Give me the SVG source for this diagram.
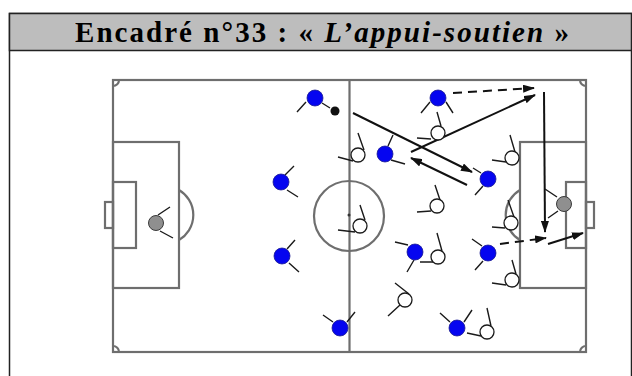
<svg xmlns="http://www.w3.org/2000/svg" width="632" height="376" viewBox="0 0 632 376">
<defs>
<style>
.field{fill:none;stroke:#6e6e6e;stroke-width:2.2}
.blue{fill:#0505f0;stroke:#1a1a90;stroke-width:0.8}
.white{fill:#fff;stroke:#1a1a1a;stroke-width:1.3}
.gk{fill:#8f8f8f;stroke:#3a3a3a;stroke-width:1}
.leg{stroke:#1a1a1a;stroke-width:1.4;fill:none}
.arr{stroke:#111;stroke-width:2;fill:none;marker-end:url(#ah)}
.dash{stroke-dasharray:9 6}
.title{font-family:"Liberation Serif","Times New Roman",serif;font-weight:bold;font-size:29px;fill:#000}
</style>
<marker id="ah" viewBox="0 0 12 8" refX="11" refY="4" markerWidth="12" markerHeight="8" markerUnits="userSpaceOnUse" orient="auto">
<path d="M0,0 L12,4 L0,8 z" fill="#111"/>
</marker>
</defs>
<rect width="632" height="376" fill="#fff"/>
<g id="frame">
<rect x="9.5" y="13.5" width="622" height="380" fill="#fff" stroke="#222" stroke-width="1.5"/>
<rect x="9.5" y="13.5" width="622" height="37" fill="#bdbdbd" stroke="#222" stroke-width="1.5"/>
<text class="title" x="75" y="42" textLength="494" lengthAdjust="spacing">Encadré n°33 : « <tspan font-style="italic">L’appui-soutien</tspan> »</text>
</g>
<g id="pitch" class="field">
<rect x="113" y="80" width="473" height="272"/>
<line x1="349.5" y1="80" x2="349.5" y2="352"/>
<circle cx="349" cy="216" r="35"/>
<circle cx="349" cy="215" r="1.5" fill="#333" stroke="none"/>
<rect x="113" y="142" width="66" height="146"/>
<rect x="113" y="182" width="23" height="66"/>
<rect x="105" y="202" width="8" height="26"/>
<path d="M179,190 A29,29 0 0 1 179,240"/>
<rect x="520" y="142" width="66" height="146"/>
<rect x="566" y="182" width="20" height="66"/>
<rect x="586" y="202" width="8" height="26"/>
<path d="M520,190 A29,29 0 0 0 520,240"/>
<path d="M113,86 A6,6 0 0 0 119,80"/>
<path d="M580,80 A6,6 0 0 0 586,86"/>
<path d="M586,346 A6,6 0 0 0 580,352"/>
<path d="M119,352 A6,6 0 0 0 113,346"/>
</g>
<g id="connectors">
<line class="arr" x1="353" y1="113" x2="472" y2="172"/>
<line class="arr" x1="467" y1="185" x2="411" y2="158"/>
<line class="arr" x1="411" y1="152" x2="535" y2="95"/>
<line class="arr dash" x1="453" y1="93" x2="534" y2="88"/>
<line class="arr" x1="544" y1="92" x2="545" y2="232"/>
<line class="arr dash" x1="500" y1="244" x2="546" y2="238"/>
<line class="arr" x1="548" y1="244" x2="583" y2="233"/>
</g>
<g id="ball"><circle cx="335" cy="111" r="4.5" fill="#111"/></g>
<g id="gk-left"><path class="leg" d="M158,215 L170,207 M160,231 L173,238"/><circle class="gk" cx="156" cy="223" r="7.5"/></g>
<g id="gk-right"><path class="leg" d="M557,197 L545,189 M558,211 L548,218"/><circle class="gk" cx="564" cy="204" r="7.5"/></g>
<g id="b1"><path class="leg" d="M306,102 L297,112 M322,103 L330,108"/><circle class="blue" cx="315" cy="98" r="8"/></g>
<g id="b2"><path class="leg" d="M430,102 L421,113 M446,102 L453,113"/><circle class="blue" cx="438" cy="98" r="8"/></g>
<g id="b3"><path class="leg" d="M285,175 L294,166 M287,190 L298,197"/><circle class="blue" cx="281" cy="182" r="8"/></g>
<g id="b4"><path class="leg" d="M287,249 L295,240 M289,263 L299,272"/><circle class="blue" cx="282" cy="256" r="8"/></g>
<g id="b5"><path class="leg" d="M388,146 L393,135 M391,160 L405,164"/><circle class="blue" cx="385" cy="154" r="8"/></g>
<g id="b6"><path class="leg" d="M481,173 L473,168 M483,186 L475,195"/><circle class="blue" cx="488" cy="179" r="8"/></g>
<g id="b7"><path class="leg" d="M408,245 L395,242 M414,260 L407,272"/><circle class="blue" cx="415" cy="252" r="8"/></g>
<g id="b8"><path class="leg" d="M482,246 L472,239 M483,261 L475,270"/><circle class="blue" cx="488" cy="253" r="8"/></g>
<g id="b9"><path class="leg" d="M333,322 L323,315 M347,322 L355,312"/><circle class="blue" cx="340" cy="328" r="8"/></g>
<g id="b10"><path class="leg" d="M450,322 L440,313 M464,322 L472,310"/><circle class="blue" cx="457" cy="328" r="8"/></g>
<g id="w1"><path class="leg" d="M364,150 L358,133 M353,161 L338,157"/><circle class="white" cx="358" cy="155" r="7"/></g>
<g id="w2"><path class="leg" d="M441,126 L437,112 M431,139 L417,138"/><circle class="white" cx="438" cy="133" r="7"/></g>
<g id="w3"><path class="leg" d="M515,152 L510,135 M506,162 L492,160"/><circle class="white" cx="512" cy="158" r="7"/></g>
<g id="w4"><path class="leg" d="M365,220 L360,205 M355,232 L338,230"/><circle class="white" cx="360" cy="226" r="7"/></g>
<g id="w5"><path class="leg" d="M440,200 L435,185 M431,211 L417,212"/><circle class="white" cx="437" cy="206" r="7"/></g>
<g id="w6"><path class="leg" d="M514,217 L508,200 M505,228 L492,227"/><circle class="white" cx="511" cy="223" r="7"/></g>
<g id="w7"><path class="leg" d="M442,251 L437,233 M433,262 L420,262"/><circle class="white" cx="438" cy="257" r="7"/></g>
<g id="w8"><path class="leg" d="M516,274 L512,260 M506,285 L492,283"/><circle class="white" cx="512" cy="280" r="7"/></g>
<g id="w9"><path class="leg" d="M409,294 L395,283 M400,305 L388,316"/><circle class="white" cx="405" cy="300" r="7"/></g>
<g id="w10"><path class="leg" d="M491,326 L487,308 M481,336 L467,333"/><circle class="white" cx="487" cy="332" r="7"/></g>
</svg>
